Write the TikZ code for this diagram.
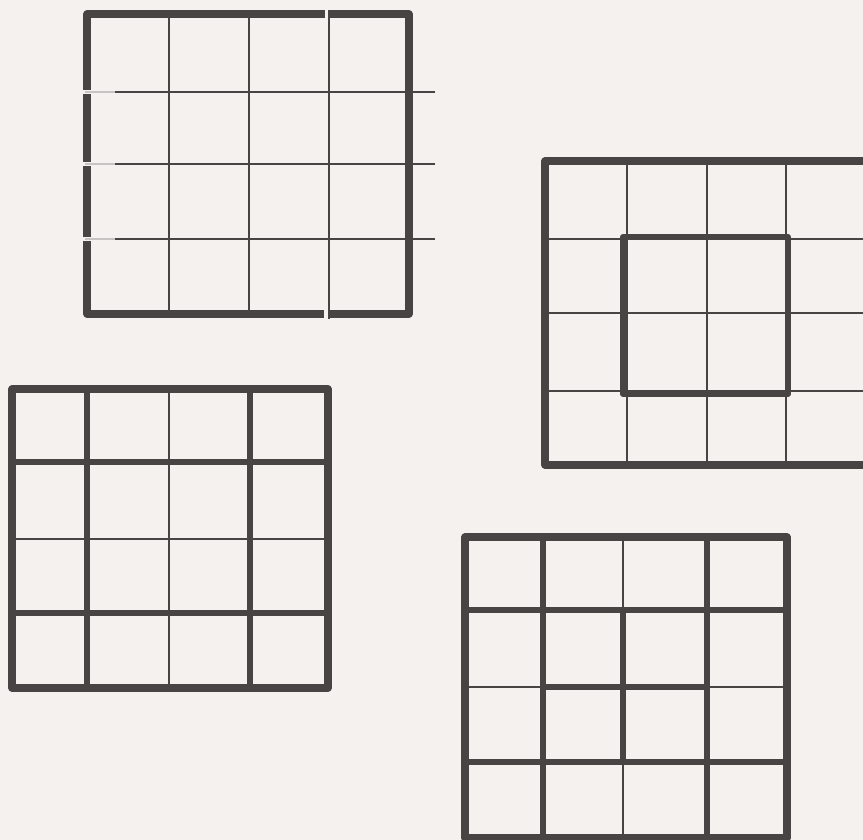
\documentclass[tikz,border=0pt]{standalone}
\usepackage{tikz}
\definecolor{paper}{RGB}{244,241,239}
\definecolor{ink}{RGB}{72,68,68}
\definecolor{faint}{RGB}{200,196,196}
\tikzset{
  frame/.style ={draw=ink, line width=2pt, line join=round},
  bold/.style  ={draw=ink, line width=1.7pt, line join=round},
  fine/.style  ={draw=ink, line width=0.8pt},
  light/.style ={draw=faint, line width=0.8pt},
  gap/.style   ={fill=paper}
}

\begin{document}
\begin{tikzpicture}[x=0.01cm, y=-0.01cm]

    \fill[paper] (0,0) rectangle (863,840);
    \useasboundingbox (0,0) rectangle (863,840);
    \clip (0,0) rectangle (863,840);

    % ---------- Grid 1 (top left) ----------
    \draw[fine] (169,14) -- (169,314);
    \draw[fine] (249,14) -- (249,314);
    \draw[frame] (87,14) rectangle (409,314);
    \fill[gap] (325,9) rectangle (330,19);
    \fill[gap] (324,309) rectangle (330,319);
    \fill[gap] (82,90) rectangle (92,94);
    \fill[gap] (82,162) rectangle (92,166);
    \fill[gap] (82,237) rectangle (92,241);
    \draw[light] (85,92) -- (115,92);
    \draw[light] (85,164) -- (115,164);
    \draw[light] (85,239) -- (115,239);
    \draw[fine] (115,92) -- (435,92);
    \draw[fine] (115,164) -- (435,164);
    \draw[fine] (115,239) -- (435,239);
    \draw[fine] (329,10) -- (329,319);

    % ---------- Grid 2 (right) ----------
    \draw[fine] (627,161) -- (627,465);
    \draw[fine] (707,161) -- (707,465);
    \draw[fine] (786,161) -- (786,465);
    \draw[fine] (545,239) -- (870,239);
    \draw[fine] (545,313) -- (870,313);
    \draw[fine] (545,391) -- (870,391);
    \draw[frame] (545,161) rectangle (870,465);
    \draw[bold] (623,237) rectangle (788,394);

    % ---------- Grid 3 (middle left) ----------
    \draw[fine] (169,389) -- (169,688);
    \draw[fine] (12,539) -- (328,539);
    \draw[bold] (87,389) -- (87,688);
    \draw[bold] (250,389) -- (250,688);
    \draw[bold] (12,462) -- (328,462);
    \draw[bold] (12,613) -- (328,613);
    \draw[frame] (12,389) rectangle (328,688);

    % ---------- Grid 4 (bottom right) ----------
    \draw[fine] (623,537) -- (623,610);
    \draw[fine] (623,762) -- (623,838);
    \draw[fine] (465,687) -- (543,687);
    \draw[fine] (707,687) -- (787,687);
    \draw[bold] (623,610) -- (623,762);
    \draw[bold] (543,687) -- (707,687);
    \draw[bold] (543,537) -- (543,838);
    \draw[bold] (707,537) -- (707,838);
    \draw[bold] (465,610) -- (787,610);
    \draw[bold] (465,762) -- (787,762);
    \draw[frame] (465,537) rectangle (787,838);

\end{tikzpicture}
\end{document}
